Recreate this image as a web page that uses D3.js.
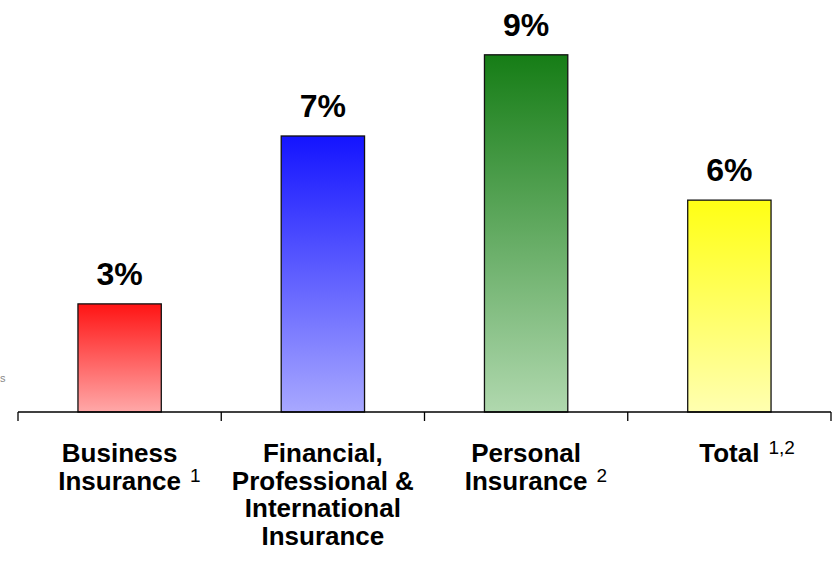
<!DOCTYPE html>
<html>
<head>
<meta charset="utf-8">
<script src="https://cdn.jsdelivr.net/npm/d3@7"></script>
<style>
  html, body { margin: 0; padding: 0; background: #fff; }
  svg { display: block; }
  text { font-family: "Liberation Sans", Arial, Helvetica, sans-serif; }
</style>
</head>
<body>
<svg id="chart" width="836" height="568"></svg>
<script>
// ---- data ----
const categories = ["Business Insurance", "Financial, Professional & International Insurance", "Personal Insurance", "Total"];
const categoryLines = [["Business", "Insurance"], ["Financial,", "Professional &", "International", "Insurance"], ["Personal", "Insurance"], ["Total"]];
const footnotes = ["1", "", "2", "1,2"];
const values = [2.73, 6.97, 9.02, 5.35];
const valueLabels = ["3%", "7%", "9%", "6%"];
const topColors = ["#ff1414", "#1414ff", "#167d16", "#ffff14"];
const bottomColors = ["#ffa8a8", "#a8a8ff", "#b0d8ae", "#ffffb0"];

const svg = d3.select("#chart");
const x0 = 18, x1 = 831, yBase = 412;

const x = d3.scaleBand().domain(categories).range([x0, x1]).paddingInner(0.59).paddingOuter(0.295);
const y = d3.scaleLinear().domain([0, 10]).range([yBase, 16]);

const defs = svg.append("defs");
categories.forEach((c, i) => {
  const g = defs.append("linearGradient").attr("id", "grad" + i)
    .attr("x1", 0).attr("y1", 0).attr("x2", 0).attr("y2", 1);
  g.append("stop").attr("offset", "0%").attr("stop-color", topColors[i]);
  g.append("stop").attr("offset", "100%").attr("stop-color", bottomColors[i]);
});

// bars
svg.append("g").selectAll("rect").data(categories).join("rect")
  .attr("x", d => x(d))
  .attr("y", (d, i) => y(values[i]))
  .attr("width", x.bandwidth())
  .attr("height", (d, i) => yBase - y(values[i]))
  .attr("fill", (d, i) => `url(#grad${i})`)
  .attr("stroke", "#111")
  .attr("stroke-width", 1.3);

// value labels
svg.append("g").selectAll("text").data(categories).join("text")
  .attr("x", d => x(d) + x.bandwidth() / 2)
  .attr("y", (d, i) => y(values[i]) - 19)
  .attr("text-anchor", "middle")
  .attr("font-size", 32)
  .attr("font-weight", "bold")
  .attr("fill", "#000")
  .text((d, i) => valueLabels[i]);

// axis line and ticks at band boundaries
const step = x.step();
const boundaries = d3.range(categories.length + 1).map(i => x0 + i * step);
const axis = svg.append("g");
axis.append("line").attr("x1", x0).attr("x2", x1).attr("y1", yBase).attr("y2", yBase)
  .attr("stroke", "#000").attr("stroke-width", 1.3);
axis.selectAll("line.tick").data(boundaries).join("line").attr("class", "tick")
  .attr("x1", d => d).attr("x2", d => d).attr("y1", yBase).attr("y2", yBase + 9)
  .attr("stroke", "#000").attr("stroke-width", 1.3);

// category labels
const lab = svg.append("g");
categories.forEach((c, i) => {
  const cx = x(c) + x.bandwidth() / 2;
  let lastNode = null, lastY = 0;
  categoryLines[i].forEach((line, j) => {
    const t = lab.append("text")
      .attr("x", cx).attr("y", 462 + j * 27.5)
      .attr("text-anchor", "middle")
      .attr("font-size", 26).attr("font-weight", "bold")
      .text(line);
    lastNode = t.node(); lastY = 462 + j * 27.5;
  });
  if (footnotes[i]) {
    const w = lastNode.getComputedTextLength();
    lab.append("text")
      .attr("x", cx + w / 2 + 9).attr("y", lastY - 8)
      .attr("font-size", 19)
      .text(footnotes[i]);
  }
});

// small fragment at left edge
svg.append("text").attr("x", 0).attr("y", 382).attr("font-size", 11).attr("fill", "#888").text("s");
</script>
</body>
</html>
